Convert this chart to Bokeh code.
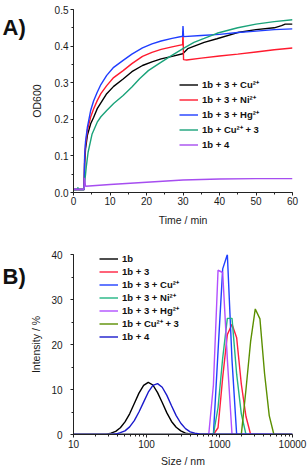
from bokeh.plotting import figure
from bokeh.models import (Legend, LegendItem, Range1d, SingleIntervalTicker,
                          FixedTicker, PrintfTickFormatter)
from bokeh.layouts import column, row
from bokeh.embed import file_html
from bokeh.resources import INLINE

# ---------------- Panel A: OD600 vs time ----------------
t_cu = [0, 2.9, 3.05, 3.3, 3.8, 4.7, 5.5, 6.5, 7.5, 9.1, 11, 13.6, 16, 18.9, 21.5, 24, 27, 29.9,
        30.2, 31.3, 35.8, 39.3, 45, 50, 55, 57, 58, 60]
od_cu = [0.008, 0.008, 0.08, 0.12, 0.156, 0.188, 0.205, 0.229, 0.245, 0.27, 0.29, 0.31, 0.33, 0.347,
         0.357, 0.365, 0.372, 0.379, 0.382, 0.393, 0.41, 0.42, 0.437, 0.445, 0.45, 0.456, 0.46, 0.46]

t_ni = [0, 2.9, 3.05, 3.3, 3.8, 4.7, 5.5, 6.5, 7.5, 9.1, 11, 13.6, 16, 18.9, 21.5, 24, 27, 29.9,
        30.0, 30.15, 31, 35, 40, 45, 50, 55, 60]
od_ni = [0.008, 0.008, 0.09, 0.13, 0.17, 0.206, 0.228, 0.251, 0.27, 0.292, 0.314, 0.333, 0.352, 0.372,
         0.383, 0.391, 0.398, 0.404, 0.44, 0.363, 0.362, 0.367, 0.373, 0.378, 0.384, 0.39, 0.395]

t_hg = [0, 2.9, 3.05, 3.3, 3.8, 4.7, 5.5, 6.5, 7.5, 9.1, 11, 13.6, 16, 18.9, 21.5, 24, 27, 29.9,
        30.0, 30.15, 35, 40, 45, 50, 55, 60]
od_hg = [0.008, 0.008, 0.1, 0.14, 0.178, 0.224, 0.25, 0.274, 0.295, 0.32, 0.342, 0.361, 0.378, 0.395,
         0.406, 0.414, 0.421, 0.427, 0.455, 0.426, 0.429, 0.432, 0.437, 0.441, 0.445, 0.447]

t_cu3 = [0, 1.0, 1.2, 1.4, 2.9, 3.1, 3.5, 4.0, 5.1, 6.5, 7.5, 9.1, 11, 13.6, 16, 18.1, 20.5, 23.4,
         26.5, 30, 33, 35.8, 39.3, 45, 50, 55, 60]
od_cu3 = [0.008, 0.008, 0.014, 0.008, 0.008, 0.03, 0.07, 0.11, 0.16, 0.192, 0.207, 0.224, 0.243, 0.265,
          0.288, 0.311, 0.333, 0.352, 0.372, 0.393, 0.41, 0.421, 0.435, 0.45, 0.46, 0.467, 0.472]

t_4 = [0, 2.9, 3.0, 3.3, 10, 20, 30, 40, 50, 60]
od_4 = [0.009, 0.009, 0.04, 0.017, 0.022, 0.028, 0.034, 0.037, 0.038, 0.038]

labels_a = ["1b + 3 + Cu²⁺", "1b + 3 + Ni²⁺", "1b + 3 + Hg²⁺", "1b + Cu²⁺ + 3", "1b + 4"]
colors_a = ["#000000", "#ff1a2e", "#1f3dff", "#1aa37a", "#a64df0"]

# ---------------- Panel B: DLS size distributions ----------------
size_1b = [10, 28.21, 32.67, 37.84, 43.82, 50.75, 58.77, 68.06, 78.82, 91.28, 105.7, 122.4, 141.8,
           164.2, 190.1, 220.2, 255.0, 295.3, 342.0, 396.1, 458.7, 10000]
int_1b = [0, 0, 0.3, 0.7, 1.5, 2.8, 4.6, 6.9, 9.2, 10.9, 11.6, 11.0, 9.3, 7.1, 4.8, 2.9, 1.6, 0.8,
          0.3, 0.1, 0, 0]

size_1b3 = [10, 825, 955, 1106, 1281, 1484, 1718, 1990, 2305, 2669, 10000]
int_1b3 = [0, 0, 1.5, 12.7, 22.2, 24.5, 21.5, 11.2, 4.0, 0, 0]

size_cu = [10, 825, 955, 1106, 1281, 1484, 1718, 10000]
int_cu = [0, 0, 18.5, 36.8, 40.0, 16.5, 0, 0]

size_ni = [10, 825, 955, 1106, 1281, 1484, 1718, 1990, 2305, 10000]
int_ni = [0, 0, 6.0, 17.0, 25.8, 25.8, 13.4, 4.6, 0, 0]

size_hg = [10, 712, 825, 955, 1106, 1281, 1484, 10000]
int_hg = [0, 0, 11.0, 36.5, 36.0, 16.7, 0, 0]

size_cu3 = [10, 1990, 2305, 2669, 3091, 3580, 4145, 4801, 5560, 10000]
int_cu3 = [0, 0, 10.0, 20.7, 27.9, 25.7, 13.5, 4.2, 0, 0]

size_4 = [10, 32.67, 37.84, 43.82, 50.75, 58.77, 68.06, 78.82, 91.28, 105.7, 122.4, 141.8, 164.2,
          190.1, 220.2, 255.0, 295.3, 342.0, 396.1, 458.7, 531.2, 10000]
int_4 = [0, 0, 0.1, 0.4, 0.8, 1.7, 3.1, 5.0, 7.2, 9.4, 10.9, 11.3, 10.5, 8.7, 6.4, 4.2, 2.5, 1.3,
         0.6, 0.3, 0.1, 0]

labels_b = ["1b", "1b + 3", "1b + 3 + Cu²⁺", "1b + 3 + Ni²⁺", "1b + 3 + Hg²⁺", "1b + Cu²⁺ + 3", "1b + 4"]
colors_b = ["#000000", "#ff2040", "#2040ff", "#22b583", "#b14fff", "#5b8f00", "#1a1acc"]

x_ticks_b = [10, 100, 1000, 10000]
panel_tags = ["A)", "B)"]

FONT = "Liberation Sans"
TAG_W = 27
H1, H2 = 231, 238


def style_axes(p):
    p.xgrid.visible = False
    p.ygrid.visible = False
    p.outline_line_color = None
    for ax in (p.xaxis[0], p.yaxis[0]):
        ax.axis_line_color = "#222222"
        ax.axis_line_width = 1
        ax.major_tick_line_color = "#222222"
        ax.minor_tick_line_color = "#222222"
        ax.major_tick_in = 0
        ax.major_tick_out = 3
        ax.minor_tick_in = 0
        ax.minor_tick_out = 2
        ax.major_label_text_font = FONT
        ax.major_label_text_font_size = "10px"
        ax.major_label_text_color = "#1a1a1a"
        ax.axis_label_text_font = FONT
        ax.axis_label_text_font_size = "10.5px"
        ax.axis_label_text_font_style = "normal"
        ax.axis_label_text_color = "#1a1a1a"


def make_legend(items, loc, row_h):
    lg = Legend(items=items, location=loc)
    lg.background_fill_alpha = 0
    lg.border_line_color = None
    lg.padding = 0
    lg.margin = 0
    lg.spacing = 0
    lg.glyph_width = 19
    lg.glyph_height = row_h
    lg.label_height = row_h
    lg.label_standoff = 4
    lg.label_text_font = FONT
    lg.label_text_font_size = "9.5px"
    lg.label_text_font_style = "bold"
    lg.label_text_color = "#111111"
    return lg


def tag_figure(text, h, baseline):
    # a narrow canvas that only holds the panel letter
    t = figure(width=TAG_W, height=h, min_border=0, x_axis_location=None, y_axis_location=None,
               output_backend="svg", toolbar_location=None)
    t.x_range = Range1d(0, TAG_W)
    t.y_range = Range1d(h, 0)
    t.xgrid.visible = False
    t.ygrid.visible = False
    t.outline_line_color = None
    t.text(x=[2], y=[baseline], text=[text], text_font={"value": FONT}, text_font_size="22px",
           text_font_style="bold", text_color="#111111", text_baseline="alphabetic",
           text_align="left")
    return t


# ---- Figure A ----
p1 = figure(width=307 - TAG_W, height=H1, min_border_left=40, min_border_right=15,
            min_border_top=9, min_border_bottom=39,
            output_backend="svg", toolbar_location=None)
p1.x_range = Range1d(0, 60)
p1.y_range = Range1d(0, 0.5)
style_axes(p1)
p1.xaxis.ticker = SingleIntervalTicker(interval=10, num_minor_ticks=2)
p1.yaxis.ticker = SingleIntervalTicker(interval=0.1, num_minor_ticks=2)
p1.yaxis.formatter = PrintfTickFormatter(format="%.1f")
p1.xaxis.axis_label = "Time / min"
p1.yaxis.axis_label = "OD600"
p1.xaxis.major_label_standoff = 1
p1.yaxis.major_label_standoff = 2
p1.xaxis.axis_label_standoff = 6
p1.yaxis.axis_label_standoff = 9

series_a = [(t_cu, od_cu), (t_ni, od_ni), (t_hg, od_hg), (t_cu3, od_cu3), (t_4, od_4)]
items_a = []
for (xs, ys), lab, col in zip(series_a, labels_a, colors_a):
    r = p1.line(xs, ys, line_color=col, line_width=1.4)
    items_a.append(LegendItem(label=lab, renderers=[r]))
p1.add_layout(make_legend(items_a, (106, 40), 15))

# ---- Figure B ----
p2 = figure(width=307 - TAG_W, height=H2, min_border_left=40, min_border_right=15,
            min_border_top=23, min_border_bottom=33, x_axis_type="log",
            output_backend="svg", toolbar_location=None)
p2.x_range = Range1d(10, 10000)
p2.y_range = Range1d(0, 40)
style_axes(p2)
minor_b = [m * d for d in (10, 100, 1000) for m in range(2, 10)]
p2.xaxis.ticker = FixedTicker(ticks=x_ticks_b, minor_ticks=minor_b)
p2.xaxis.formatter = PrintfTickFormatter(format="%d")
p2.yaxis.ticker = SingleIntervalTicker(interval=10, num_minor_ticks=2)
p2.xaxis.axis_label = "Size / nm"
p2.yaxis.axis_label = "Intensity / %"
p2.xaxis.major_label_standoff = 2
p2.yaxis.major_label_standoff = 8
p2.xaxis.axis_label_standoff = 4
p2.yaxis.axis_label_standoff = 6

series_b = [(size_1b, int_1b), (size_1b3, int_1b3), (size_cu, int_cu), (size_ni, int_ni),
            (size_hg, int_hg), (size_cu3, int_cu3), (size_4, int_4)]
items_b = []
for (xs, ys), lab, col in zip(series_b, labels_b, colors_b):
    r = p2.line(xs, ys, line_color=col, line_width=1.4)
    items_b.append(LegendItem(label=lab, renderers=[r]))
p2.add_layout(make_legend(items_b, (26, 91), 13))

ta = tag_figure(panel_tags[0], H1, 23)
tb = tag_figure(panel_tags[1], H2, 29)

layout = column(row(ta, p1, spacing=0), row(tb, p2, spacing=0), spacing=0)
open("out.html", "w").write(file_html(layout, INLINE))
